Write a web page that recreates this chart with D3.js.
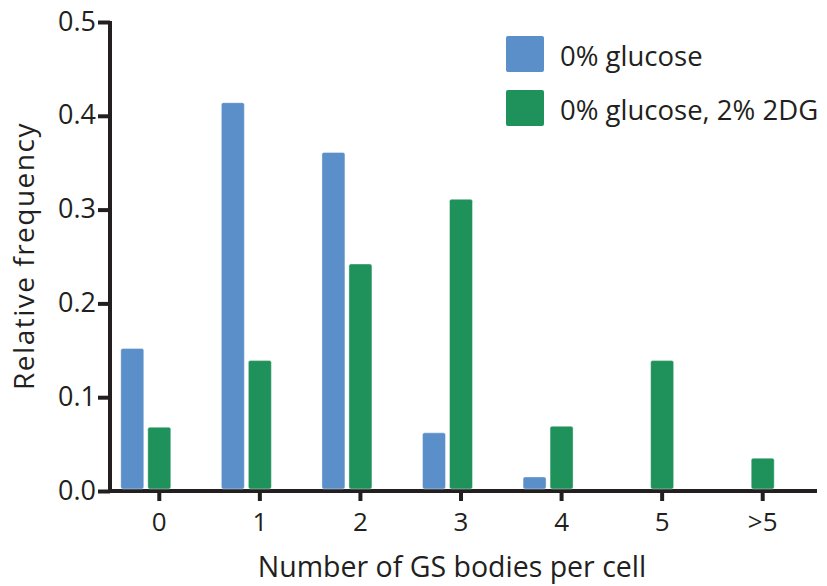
<!DOCTYPE html>
<html>
<head>
<meta charset="utf-8">
<script src="https://d3js.org/d3.v7.min.js"></script>
<style>
    body { margin: 0; background: #fff; }
    text { font-family: "Open Sans", "DejaVu Sans", sans-serif; fill: #231f20; }
    .axis path, .axis line { stroke: #231f20; stroke-width: 4px; }
</style>
</head>
<body>
<svg width="827" height="586"></svg>
<script>
    // data
    var categories = ["0", "1", "2", "3", "4", "5", ">5"];
    var seriesNames = ["0% glucose", "0% glucose, 2% 2DG"];
    var glucose0 = [0.152, 0.414, 0.361, 0.062, 0.015, 0, 0];
    var glucose2DG = [0.068, 0.139, 0.242, 0.311, 0.069, 0.139, 0.035];
    var yTicks = [0, 0.1, 0.2, 0.3, 0.4, 0.5];
    var colors = ["#5b8fc9", "#1f915a"];

    var svg = d3.select("svg");

    var x = d3.scaleBand().domain(categories).range([109, 813]);
    var y = d3.scaleLinear().domain([0, 0.5]).range([491, 22]);

    var barW = 23;

    // x axis
    var xa = svg.append("g")
        .attr("class", "axis")
        .attr("transform", "translate(0,491)")
        .call(d3.axisBottom(x).tickSize(10).tickSizeOuter(0));
    xa.select(".domain").attr("d", "M108,0H817");
    xa.selectAll("text").attr("font-size", 26).attr("y", 0).attr("dy", "1.54em");

    // y axis
    var ya = svg.append("g")
        .attr("class", "axis")
        .attr("transform", "translate(110,0)")
        .call(d3.axisLeft(y).tickValues(yTicks).tickFormat(d3.format(".1f")).tickSize(12).tickSizeOuter(0));
    ya.select(".domain").attr("d", "M0,21V493");
    ya.selectAll("text").attr("font-size", 27).attr("x", -14).attr("dy", "0.3em");

    // green bar sits on the tick, blue bar just left of it
    var data = [glucose0, glucose2DG];
    data.forEach(function (vals, si) {
        svg.append("g").selectAll("rect")
            .data(vals.map(function (v, i) { return {c: categories[i], v: v}; })
                .filter(function (d) { return d.v > 0; }))
            .enter().append("rect")
            .attr("x", function (d) {
                var c = x(d.c) + x.bandwidth() / 2;
                return si === 0 ? c - 38.5 : c - 11.5;
            })
            .attr("y", function (d) { return y(d.v); })
            .attr("width", barW)
            .attr("height", function (d) { return y(0) - y(d.v) - 2; })
            .attr("rx", 2)
            .attr("fill", colors[si])
            .attr("stroke", "#fff")
            .attr("stroke-opacity", 0.4)
            .attr("stroke-width", 1);
    });

    // legend
    var lg = svg.append("g");
    seriesNames.forEach(function (n, i) {
        lg.append("rect")
            .attr("x", 506).attr("y", 36 + i * 54)
            .attr("width", 38).attr("height", 36)
            .attr("rx", 2)
            .attr("fill", colors[i]);
        lg.append("text")
            .attr("x", 560).attr("y", 56 + i * 54)
            .attr("dy", "0.35em")
            .attr("font-size", 27.5)
            .text(n);
    });

    // axis titles
    svg.append("text")
        .attr("x", 452).attr("y", 577)
        .attr("text-anchor", "middle")
        .attr("font-size", 28.5)
        .text("Number of GS bodies per cell");

    svg.append("text")
        .attr("transform", "translate(34,256) rotate(-90)")
        .attr("text-anchor", "middle")
        .attr("font-size", 28)
        .attr("letter-spacing", 1.5)
        .text("Relative frequency");
</script>
</body>
</html>
